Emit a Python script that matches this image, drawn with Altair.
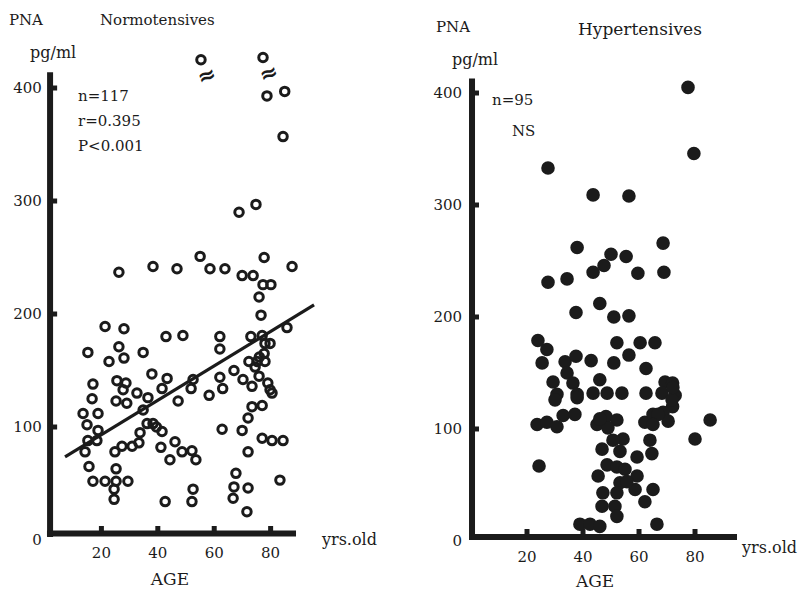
import altair as alt
import pandas as pd

# ---------------- data ----------------
norm_age = [78.7, 85.0, 84.4, 68.8, 74.8, 26.2, 38.3, 46.8, 55.0, 58.5,
            63.8, 69.9, 73.8, 77.7, 87.6, 77.3, 80.1, 75.9, 76.6, 21.3,
            28.0, 42.9, 48.9, 62.0, 62.0, 73.0, 77.0, 85.8, 15.2, 26.2,
            28.0, 22.7, 34.8, 78.0, 79.8, 77.7, 72.3, 75.2, 78.0, 67.0,
            70.2, 73.4, 75.9, 79.0, 79.8, 62.0, 63.0, 52.5, 51.8, 58.2,
            47.2, 37.9, 43.3, 41.5, 17.0, 16.7, 25.5, 28.7, 27.7, 32.6,
            25.2, 29.0, 36.5, 13.5, 18.8, 34.8, 73.4, 77.0, 14.9, 18.8,
            15.2, 18.4, 14.2, 33.7, 36.2, 38.3, 41.5, 33.3, 30.9, 27.3,
            24.8, 41.1, 46.1, 48.6, 52.1, 53.5, 44.3, 15.6, 17.0, 21.3,
            25.2, 25.2, 29.4, 24.5, 24.5, 42.6, 52.5, 52.1, 62.8, 69.9,
            72.0, 72.0, 77.0, 80.5, 84.4, 83.3, 67.7, 67.0, 66.7, 72.0,
            71.6, 39.5, 74.5, 76.0, 80.5]
norm_pna = [393, 397, 357, 290, 297, 237, 242, 240, 251, 240,
            240, 234, 234, 250, 242, 226, 226, 215, 199, 189,
            187, 180, 181, 180, 169, 180, 181, 188, 166, 171,
            161, 158, 166, 174, 174, 165, 158, 158, 158, 150,
            142, 136, 145, 139, 133, 144, 134, 142, 134, 128,
            123, 147, 143, 134, 138, 125, 141, 139, 133, 130,
            123, 121, 126, 112, 112, 115, 118, 119, 102, 97,
            88, 88, 78, 95, 103, 103, 96, 86, 83, 83,
            78, 82, 87, 78, 79, 71, 71, 65, 52, 52,
            63, 52, 52, 45, 36, 34, 45, 34, 98, 97,
            108, 78, 90, 88, 88, 53, 59, 47, 37, 46,
            25, 100, 153, 162, 130]
# two values plotted above a broken axis (≈)
norm_cut_age = [55.3, 77.3]
norm_cut_pna = [425, 427]
# regression line end points
norm_fit_age = [7.1, 95.4]
norm_fit_pna = [73.5, 208.0]

hyp_age = [77.5, 79.6, 27.5, 43.6, 56.4, 37.9, 50.0, 55.4, 68.6, 47.5,
           43.6, 59.6, 68.9, 27.5, 34.3, 37.5, 46.0, 51.0, 56.4, 23.9,
           27.1, 25.4, 52.1, 60.4, 65.7, 56.4, 33.6, 37.5, 42.9, 51.0,
           62.5, 29.3, 34.3, 36.4, 46.0, 69.3, 72.0, 30.7, 37.9, 43.6,
           48.6, 53.9, 62.5, 68.2, 72.9, 30.0, 37.9, 72.0, 23.6, 27.1,
           30.7, 32.9, 37.1, 45.0, 48.2, 52.1, 48.9, 62.1, 65.0, 68.6,
           70.4, 85.4, 80.0, 63.9, 64.6, 24.3, 46.8, 54.3, 53.2, 59.3,
           48.6, 52.1, 45.4, 55.0, 59.3, 53.2, 47.1, 58.6, 65.0, 62.1,
           46.8, 51.4, 52.1, 38.9, 42.5, 46.0, 66.4, 46.0, 71.8, 72.1,
           66.8, 65.0, 55.7, 52.1, 50.7]
hyp_pna = [405, 346, 333, 309, 308, 262, 256, 254, 266, 246,
           240, 239, 240, 231, 234, 204, 212, 200, 201, 179,
           171, 159, 177, 177, 177, 166, 160, 165, 161, 159,
           154, 142, 150, 141, 144, 142, 141, 131, 131, 132,
           132, 132, 132, 132, 130, 126, 128, 120, 104, 106,
           102, 112, 113, 104, 111, 108, 101, 106, 113, 115,
           107, 108, 91, 90, 78, 67, 82, 91, 80, 75,
           68, 66, 58, 64, 58, 52, 43, 46, 46, 35,
           31, 31, 22, 15, 15, 13, 15, 109, 126, 137,
           113, 104, 53, 43, 90]

y_tick_vals = [0, 100, 200, 300, 400]
x_tick_vals = [20, 40, 60, 80]

# ---------------- styling ----------------
INK = "#1b1b1b"
SERIF = "DejaVu Serif"
H = 578


def sc(dom):
    return alt.Scale(domain=dom, nice=False, zero=False)


def enc_xy(xs, ys):
    return dict(x=alt.X("age:Q", scale=xs, axis=None),
                y=alt.Y("val:Q", scale=ys, axis=None))


def text_layer(df, xs, ys, align):
    return alt.Chart(df).mark_text(align=align, baseline="middle", font=SERIF,
                                   color=INK).encode(
        text="label:N", size=alt.Size("fs:Q", scale=None, legend=None),
        **enc_xy(xs, ys))


def axis_layers(xs, ys, yline_age, ytop, ybot, xline_val, xstart, xend,
                ybump_to, xbump_to):
    axes = pd.DataFrame({"age": [yline_age, xstart], "age2": [yline_age, xend],
                         "val": [ybot, xline_val], "val2": [ytop, xline_val]})
    rules = alt.Chart(axes).mark_rule(color=INK, strokeWidth=6, strokeCap="butt").encode(
        x2="age2:Q", y2="val2:Q", **enc_xy(xs, ys))
    yb = pd.DataFrame({"age": [yline_age] * 4, "age2": [ybump_to] * 4,
                       "val": y_tick_vals[1:], "val2": y_tick_vals[1:]})
    xb = pd.DataFrame({"age": x_tick_vals, "age2": x_tick_vals,
                       "val": [xline_val] * 4, "val2": [xbump_to] * 4})
    bumps = alt.Chart(pd.concat([yb, xb])).mark_rule(
        color=INK, strokeWidth=5, strokeCap="butt").encode(
        x2="age2:Q", y2="val2:Q", **enc_xy(xs, ys))
    return [rules, bumps]


def tick_labels(xs, ys, ylab_age, xlab_val, fs=15):
    ydf = pd.DataFrame({"age": [ylab_age] * 5, "val": y_tick_vals,
                        "label": [str(v) for v in y_tick_vals], "fs": [fs] * 5})
    xdf = pd.DataFrame({"age": x_tick_vals, "val": [xlab_val] * 4,
                        "label": [str(v) for v in x_tick_vals], "fs": [fs] * 4})
    return [text_layer(ydf, xs, ys, "right"), text_layer(xdf, xs, ys, "center")]


# ---------------- left panel: normotensives ----------------
LX = sc([-13.12, 135.8])
LY = sc([-40.7, 470.8])

norm_df = pd.DataFrame({"age": norm_age, "val": norm_pna})
cut_df = pd.DataFrame({"age": norm_cut_age, "val": norm_cut_pna})
fit_df = pd.DataFrame({"age": norm_fit_age, "val": norm_fit_pna})

ring = dict(shape="circle", filled=False, size=72, strokeWidth=3, color=INK, opacity=1)
left_pts = alt.Chart(norm_df).mark_point(**ring).encode(**enc_xy(LX, LY))
cut_pts = alt.Chart(cut_df).mark_point(**ring).encode(**enc_xy(LX, LY))
cut_sym = alt.Chart(cut_df).mark_text(text="≈", font="DejaVu Sans", fontSize=22,
                                      fontWeight="bold", angle=340, dy=17, color=INK).encode(**enc_xy(LX, LY))
fit_line = alt.Chart(fit_df).mark_line(color=INK, strokeWidth=3.2).encode(**enc_xy(LX, LY))

left_left_txt = pd.DataFrame({
    "label": ["PNA", "Normotensives", "pg/ml", "n=117", "r=0.395", "P<0.001", "yrs.old"],
    "age": [-12.8, 19.5, -5.3, 11.7, 11.7, 11.7, 98.2],
    "val": [460, 460, 431, 393, 371, 349, 0],
    "fs": [15, 15, 16, 15, 15, 15, 16]})
left_ctr_txt = pd.DataFrame({"label": ["AGE"], "age": [44.3], "val": [-35.0], "fs": [17]})

left = alt.layer(
    *axis_layers(LX, LY, 1.8, 414, 2.7, 5.75, 0.7, 89.0, 4.3, 12.4),
    fit_line, left_pts, cut_pts, cut_sym,
    *tick_labels(LX, LY, -1.1, -11.5),
    text_layer(left_left_txt, LX, LY, "left"),
    text_layer(left_ctr_txt, LX, LY, "center"),
).properties(width=420, height=H)

# ---------------- right panel: hypertensives ----------------
RX = sc([-15.36, 118.21])
RY = sc([-40.2, 475.9])

hyp_df = pd.DataFrame({"age": hyp_age, "val": hyp_pna})
right_pts = alt.Chart(hyp_df).mark_circle(size=185, color=INK, opacity=1).encode(**enc_xy(RX, RY))

right_left_txt = pd.DataFrame({
    "label": ["PNA", "Hypertensives", "pg/ml", "n=95", "NS", "yrs.old"],
    "age": [-12.5, 38.2, -6.8, 7.5, 14.6, 96.8],
    "val": [459, 456, 429.5, 394, 366, -6.25],
    "fs": [15, 17, 16, 15, 15, 16]})
right_ctr_txt = pd.DataFrame({"label": ["AGE"], "age": [44.3], "val": [-37.0], "fs": [17]})

right = alt.layer(
    *axis_layers(RX, RY, 0.36, 413, 0.9, 3.6, 0.0, 95.0, 2.86, 10.7),
    right_pts,
    *tick_labels(RX, RY, -3.2, -14.3),
    text_layer(right_left_txt, RX, RY, "left"),
    text_layer(right_ctr_txt, RX, RY, "center"),
).properties(width=374, height=H)

chart = alt.hconcat(left, right, spacing=0).properties(padding=0).configure_view(stroke=None)

chart.save("out.html", embed_options={"renderer": "svg", "actions": False})
